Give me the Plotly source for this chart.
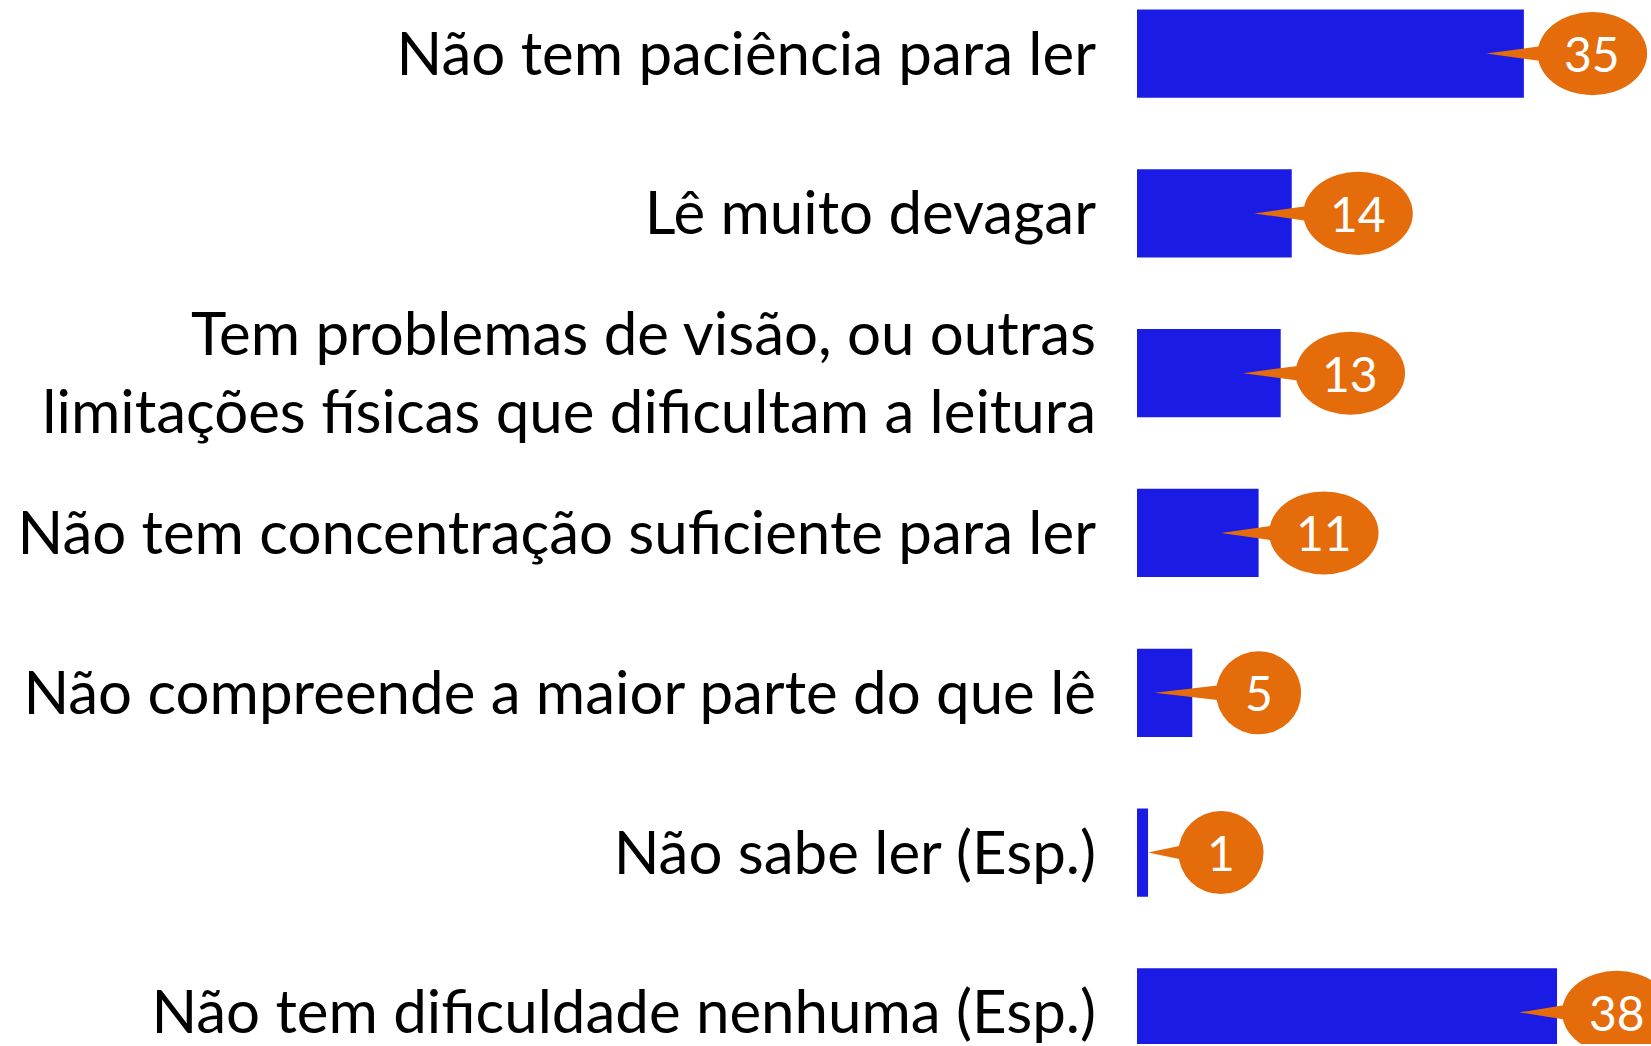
import plotly.graph_objects as go

categories = [
    "Não tem paciência para ler",
    "Lê muito devagar",
    "Tem problemas de visão, ou outras<br>limitações físicas que dificultam a leitura",
    "Não tem concentração suficiente para ler",
    "Não compreende a maior parte do que lê",
    "Não sabe ler (Esp.)",
    "Não tem dificuldade nenhuma (Esp.)",
]
values = [35, 14, 13, 11, 5, 1, 38]

BAR = "#1B1BE6"
ORANGE = "#E46C0A"
FONT = "Lato"

X_MAX = 46.5
# bubble center offsets from bar end (style, x units)
BUBBLE_OFF = [6.2, 6.0, 6.3, 5.9, 6.0, 6.6, 5.4]
HALF_W2 = 4.95        # half width for two-digit bubbles (x units)
HALF_W1 = 3.85        # half width for one-digit bubbles
HALF_H = 0.26         # half height (category units)
TIP_IN = 3.4

fig = go.Figure()
fig.add_trace(go.Bar(
    x=values, y=categories, orientation="h",
    marker=dict(color=BAR, line=dict(width=0)),
    width=0.552, hoverinfo="skip",
))

shapes = []
annotations = []
for i, v in enumerate(values):
    cx = v + BUBBLE_OFF[i]
    hw = HALF_W2 if v >= 10 else HALF_W1
    tip = v - TIP_IN if v > TIP_IN else v
    bx = cx - hw + 0.7
    shapes.append(dict(type="path", xref="x", yref="y",
                       path=f"M {tip},{i} L {bx},{i-0.05} L {bx},{i+0.05} Z",
                       fillcolor=ORANGE, line=dict(width=0), layer="above"))
    shapes.append(dict(type="circle", xref="x", yref="y",
                       x0=cx - hw, x1=cx + hw, y0=i - HALF_H, y1=i + HALF_H,
                       fillcolor=ORANGE, line=dict(width=0), layer="above"))
    annotations.append(dict(x=cx, y=i, xref="x", yref="y", text=str(v),
                            showarrow=False, xanchor="center", yanchor="middle",
                            font=dict(family=FONT, size=48, color="white")))

fig.update_layout(
    width=1651, height=1046,
    margin=dict(l=1137, r=0, t=0, b=0),
    plot_bgcolor="white", paper_bgcolor="white",
    showlegend=False,
    shapes=shapes,
    annotations=annotations,
    font=dict(family=FONT, color="black"),
)
fig.update_xaxes(range=[0, X_MAX], showticklabels=False, showgrid=False,
                 zeroline=False, showline=False)
fig.update_yaxes(type="category", range=[6.198, -0.3354], showgrid=False,
                 zeroline=False, showline=False, ticks="",
                 tickfont=dict(family=FONT, size=60, color="black"),
                 ticklabelstandoff=40)

fig.write_html("out.html", config={"displayModeBar": False},
               post_script="document.body.style.margin='0';")
